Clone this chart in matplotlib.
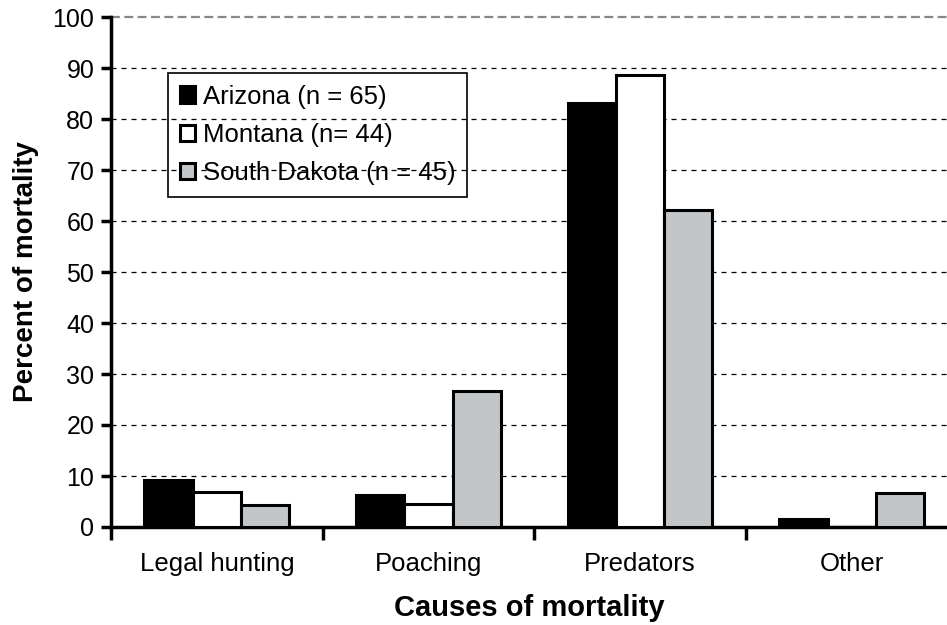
import matplotlib
matplotlib.use("Agg")
import matplotlib.pyplot as plt
import numpy as np

plt.rcParams['font.family'] = ['Liberation Sans', 'DejaVu Sans']

categories = ["Legal hunting", "Poaching", "Predators", "Other"]
series_names = ["Arizona (n = 65)", "Montana (n= 44)", "South Dakota (n = 45)"]
arizona = [9.2, 6.2, 83.1, 1.5]
montana = [6.8, 4.5, 88.6, 0.0]
south_dakota = [4.4, 26.7, 62.2, 6.7]
yticks = [0, 10, 20, 30, 40, 50, 60, 70, 80, 90, 100]

colors = ["#000000", "#ffffff", "#c3c6c9"]
series = [arizona, montana, south_dakota]

fig = plt.figure(figsize=(9.47, 6.25), dpi=100)
ax = fig.add_axes([111/947, (625-527)/625, 1 - 111/947, (527-17)/625])

x = np.arange(len(categories))
w = 0.228
for i, (vals, c, name) in enumerate(zip(series, colors, series_names)):
    ax.bar(x + (i - 1) * w, vals, width=w, color=c, edgecolor='black',
           linewidth=2.2, label=name, zorder=3)

ax.set_xlim(-0.5, 3.45)
ax.set_ylim(0, 100)
ax.set_yticks(yticks)
ax.set_yticklabels([str(t) for t in yticks], fontsize=18)
ax.set_xticks(x)
ax.set_xticklabels(categories, fontsize=18.5)
ax.set_xticks(np.arange(-0.5, 3.5, 1.0), minor=True)
ax.tick_params(axis='x', which='major', length=0, pad=18)
ax.tick_params(axis='x', which='minor', length=9, width=2.5, direction='out')
ax.tick_params(axis='y', length=7, width=2.5, direction='out', pad=5)

for t in yticks[1:-1]:
    ax.axhline(t, color='black', linewidth=0.9, linestyle=(0, (4, 4)), zorder=1)
ax.axhline(100, color='#888888', linewidth=1.6, linestyle=(0, (4, 2)), zorder=1, clip_on=False)

for s in ['top', 'right']:
    ax.spines[s].set_visible(False)
ax.spines['left'].set_linewidth(2.5)
ax.spines['bottom'].set_linewidth(2.5)

ax.set_xlabel("Causes of mortality", fontsize=21, fontweight='bold', labelpad=13)
ax.set_ylabel("Percent of mortality", fontsize=20, fontweight='bold', labelpad=10)

leg = ax.legend(loc='upper left', bbox_to_anchor=(168/947, 1 - 73/625),
                bbox_transform=fig.transFigure, fontsize=18.5, frameon=True,
                fancybox=False, handlelength=0.6, handleheight=0.6,
                handletextpad=0.3, borderpad=0.45, labelspacing=0.56,
                borderaxespad=0)
leg.get_frame().set_edgecolor('black')
leg.get_frame().set_linewidth(1.2)
leg.get_frame().set_alpha(None)
leg.get_frame().set_facecolor((1, 1, 1, 0))
leg.set_zorder(5)

fig.savefig("out.png", dpi=100)
